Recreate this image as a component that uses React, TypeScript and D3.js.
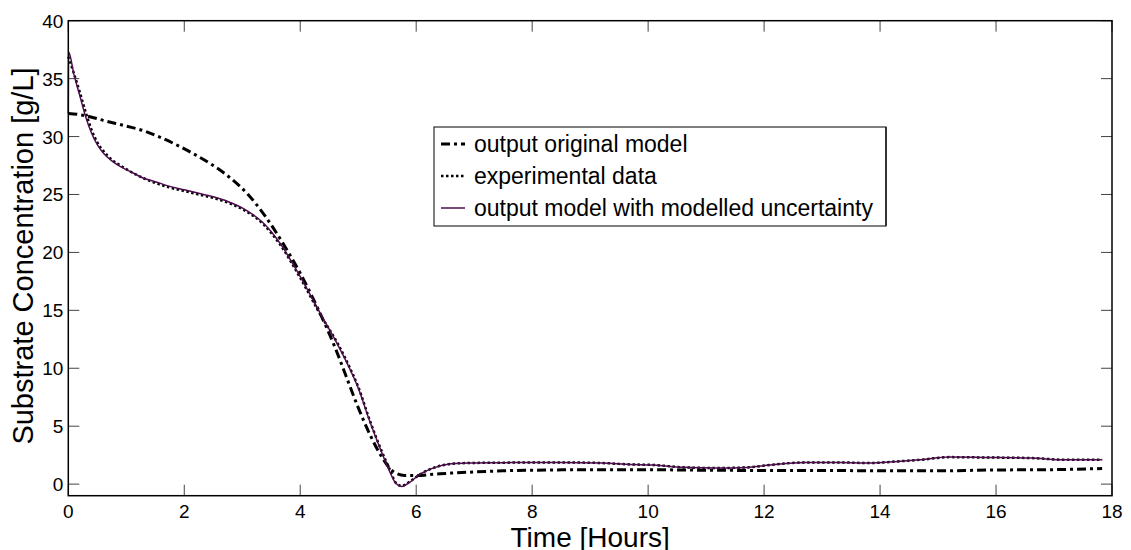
import React from 'react';
import * as d3 from 'd3';

const xTicks = [0, 2, 4, 6, 8, 10, 12, 14, 16, 18];
const yTicks = [0, 5, 10, 15, 20, 25, 30, 35, 40];

const timeOriginal = [0, 0.3, 0.6, 1.0, 1.3, 1.6, 1.9, 2.2, 2.5, 2.8, 3.1, 3.4, 3.7, 4.0, 4.3, 4.6, 4.8, 5.0, 5.2, 5.4, 5.6, 5.8, 6.0, 6.3, 6.6, 7.0, 7.5, 8.0, 9, 10, 11, 12, 13, 14, 15, 16, 17, 17.83];
const originalModel = [32.0, 31.8, 31.4, 30.9, 30.5, 29.9, 29.2, 28.4, 27.5, 26.4, 25.0, 23.1, 20.8, 18.2, 15.2, 11.8, 9.2, 6.6, 4.3, 2.4, 1.1, 0.75, 0.75, 0.85, 0.95, 1.05, 1.15, 1.2, 1.24, 1.24, 1.2, 1.18, 1.18, 1.15, 1.15, 1.22, 1.25, 1.35];

const timeExperimental = [0, 0.1, 0.2, 0.3, 0.4, 0.5, 0.6, 0.75, 0.9, 1.1, 1.3, 1.5, 1.75, 2.0, 2.25, 2.5, 2.75, 3.05, 3.35, 3.65, 4.0, 4.35, 4.65, 4.85, 5.0, 5.2, 5.4, 5.55, 5.65, 5.75, 5.9, 6.05, 6.3, 6.6, 6.9, 7.5, 8.0, 8.5, 9.2, 9.7, 10.1, 10.6, 11.2, 11.7, 12.1, 12.7, 13.3, 13.8, 14.3, 14.7, 15.2, 15.8, 16.6, 17.2, 17.83];
const experimentalData = [36.9, 35.4, 33.8, 32.1, 30.6, 29.5, 28.8, 28.0, 27.5, 26.9, 26.4, 26.0, 25.6, 25.3, 25.0, 24.7, 24.3, 23.6, 22.5, 20.7, 17.8, 14.6, 12.1, 10.1, 8.4, 5.5, 2.9, 1.2, 0.1, -0.15, 0.25, 0.8, 1.4, 1.75, 1.82, 1.85, 1.87, 1.87, 1.82, 1.7, 1.65, 1.45, 1.39, 1.44, 1.65, 1.87, 1.87, 1.82, 1.96, 2.1, 2.33, 2.3, 2.25, 2.1, 2.1];

const timeUncertain = [0, 0.005, 0.1, 0.2, 0.3, 0.4, 0.5, 0.6, 0.75, 0.9, 1.1, 1.3, 1.5, 1.75, 2.0, 2.25, 2.5, 2.75, 3.05, 3.35, 3.65, 4.0, 4.35, 4.65, 4.85, 5.0, 5.2, 5.4, 5.55, 5.65, 5.75, 5.9, 6.05, 6.3, 6.6, 6.9, 7.5, 8.0, 8.5, 9.2, 9.7, 10.1, 10.6, 11.2, 11.7, 12.1, 12.7, 13.3, 13.8, 14.3, 14.7, 15.2, 15.8, 16.6, 17.2, 17.83];
const uncertainModel = [32.0, 37.3, 35.3, 33.5, 31.7, 30.3, 29.3, 28.6, 27.9, 27.4, 26.9, 26.4, 26.1, 25.7, 25.4, 25.1, 24.8, 24.4, 23.7, 22.6, 20.8, 17.9, 14.7, 12.0, 10.0, 8.3, 5.4, 2.8, 1.0, 0.05, -0.2, 0.2, 0.8, 1.4, 1.75, 1.82, 1.85, 1.87, 1.87, 1.82, 1.7, 1.65, 1.45, 1.39, 1.44, 1.65, 1.87, 1.87, 1.82, 1.96, 2.1, 2.33, 2.3, 2.25, 2.1, 2.1];

const legendLabels = ['output original model', 'experimental data', 'output model with modelled uncertainty'];
const xLabel = 'Time [Hours]';
const yLabel = 'Substrate Concentration [g/L]';

const FONT = 'Liberation Sans, Arial, Helvetica, sans-serif';
const PURPLE = '#4e0c4e';

export default function App() {
  const W = 1131, H = 550;
  const left = 68.3, right = 1112, top = 20.7, bottom = 495.7;
  const x = d3.scaleLinear().domain([0, 18]).range([left, right]);
  const y = d3.scaleLinear().domain([-1, 40]).range([bottom, top]);

  const mk = (ts: number[]) =>
    d3.line<number>().x((_, i) => x(ts[i])).y((d) => y(d)).curve(d3.curveMonotoneX);

  const pathO = mk(timeOriginal)(originalModel) || '';
  const pathE = mk(timeExperimental)(experimentalData) || '';
  const pathU = mk(timeUncertain)(uncertainModel) || '';

  const tickLen = 11;
  const lg = { x: 434, y: 127, w: 452, h: 99 };
  const rowY = [144, 176, 208];

  const styles = [
    { stroke: '#000', width: 3, dash: '9 4 3 4' as string | undefined },
    { stroke: '#000', width: 2.5, dash: '2.5 2.5' as string | undefined },
    { stroke: PURPLE, width: 1.5, dash: undefined as string | undefined },
  ];

  return (
    <svg width={W} height={H} style={{ position: 'absolute', left: 0, top: 0, background: '#fff' }} fontFamily={FONT}>
      <rect x={0} y={0} width={W} height={H} fill="#fff" />
      {xTicks.map((t) => (
        <g key={'xt' + t}>
          <line x1={x(t)} x2={x(t)} y1={bottom} y2={bottom - tickLen} stroke="#444" strokeWidth={1} />
          <line x1={x(t)} x2={x(t)} y1={top} y2={top + tickLen} stroke="#444" strokeWidth={1} />
          <text x={x(t)} y={bottom + 22.6} fontSize={19} textAnchor="middle" fill="#000">{t}</text>
        </g>
      ))}
      {yTicks.map((t) => (
        <g key={'yt' + t}>
          <line x1={left} x2={left + tickLen} y1={y(t)} y2={y(t)} stroke="#444" strokeWidth={1} />
          <line x1={right} x2={right - tickLen} y1={y(t)} y2={y(t)} stroke="#444" strokeWidth={1} />
          <text x={left - 5} y={y(t) + 7} fontSize={19} textAnchor="end" fill="#000">{t}</text>
        </g>
      ))}
      <path d={pathO} fill="none" stroke={styles[0].stroke} strokeWidth={styles[0].width} strokeDasharray={styles[0].dash} />
      <path d={pathE} fill="none" stroke={styles[1].stroke} strokeWidth={styles[1].width} strokeDasharray={styles[1].dash} />
      <path d={pathU} fill="none" stroke={styles[2].stroke} strokeWidth={styles[2].width} />
      <rect x={left} y={top} width={right - left} height={bottom - top} fill="none" stroke="#000" strokeWidth={1.5} />
      <text x={x(9)} y={547} fontSize={28} textAnchor="middle" fill="#000">{xLabel}</text>
      <text transform={`translate(33,256) rotate(-90)`} fontSize={29} textAnchor="middle" fill="#000">{yLabel}</text>
      <rect x={lg.x} y={lg.y} width={lg.w} height={lg.h} fill="#fff" stroke="#000" strokeWidth={1} />
      <line x1={lg.x + lg.w} x2={lg.x + lg.w} y1={lg.y} y2={lg.y + lg.h} stroke="#333" strokeWidth={2} />
      {legendLabels.map((l, i) => (
        <g key={l}>
          <line x1={lg.x + 7} x2={lg.x + 31} y1={rowY[i]} y2={rowY[i]} stroke={styles[i].stroke} strokeWidth={styles[i].width} strokeDasharray={styles[i].dash} />
          <text x={lg.x + 40} y={rowY[i] + 8} fontSize={23} fill="#000">{l}</text>
        </g>
      ))}
    </svg>
  );
}
